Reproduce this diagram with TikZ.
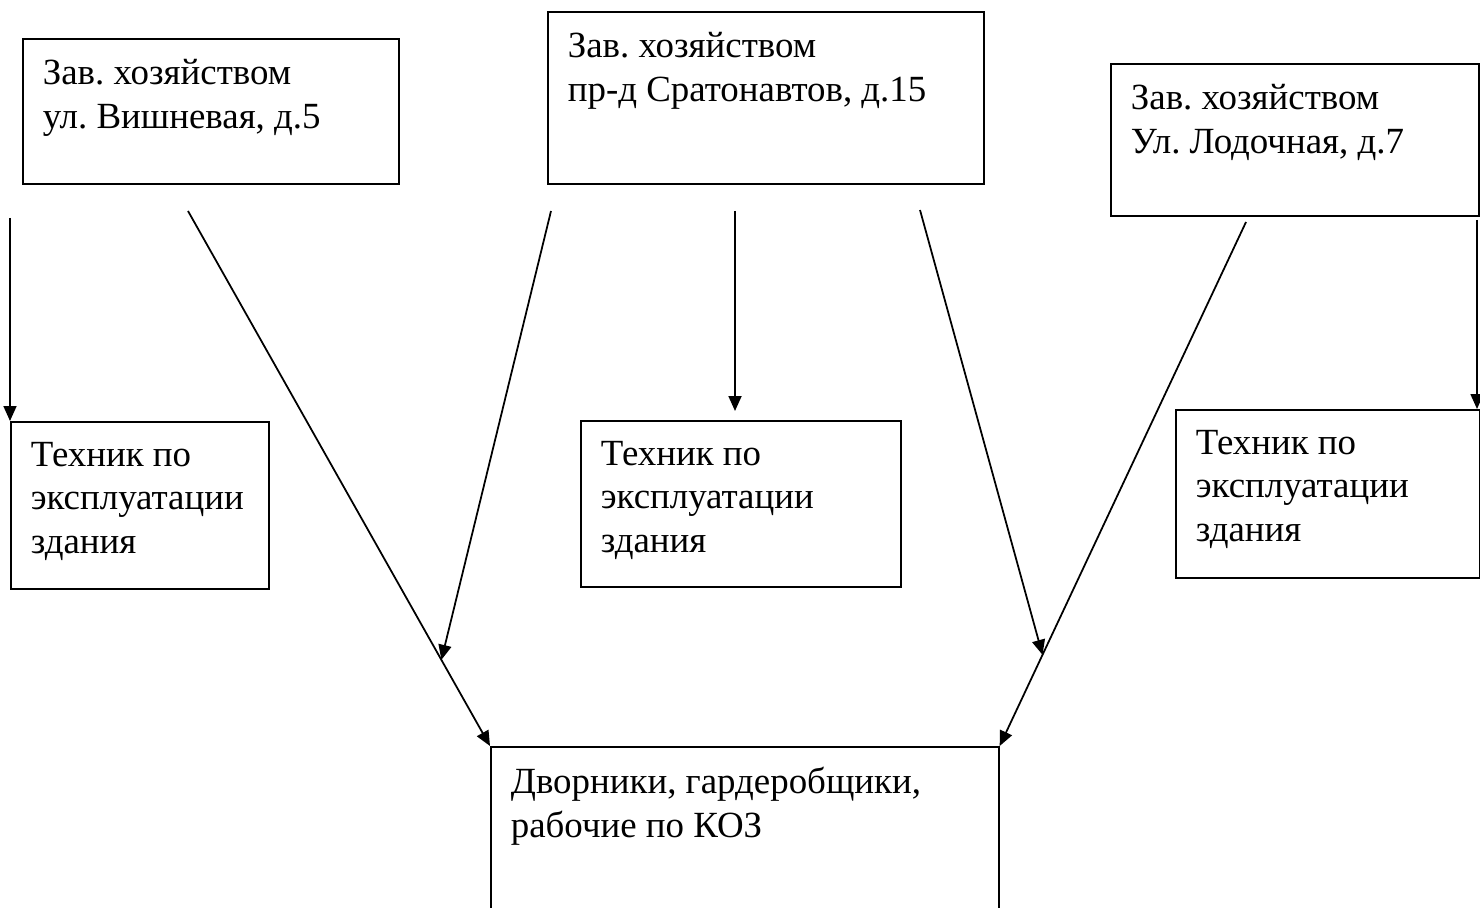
\documentclass[tikz,border=0pt]{standalone}
\usepackage{fontspec}
\setmainfont{Liberation Serif}
\usepackage{tikz}
\usetikzlibrary{arrows.meta,calc}
\newcommand{\boxtxt}[3]{\parbox[t][#2][t]{#1}{\raggedright\frenchspacing #3}}

\begin{document}
\begin{tikzpicture}[x=0.02cm,y=-0.02cm,>={Triangle[length=0.3cm,width=0.26cm]},
  unit/.style={draw,line width=1pt,inner sep=0.4cm,anchor=north west,
    font=\fontsize{21pt}{25pt}\selectfont},
  arr/.style={->,line width=1pt}]
  \clip (0,0) rectangle (1480,908);
  \useasboundingbox (0,0) rectangle (1480,908);
  % ---- heads of the three buildings
  \node[unit] (zavVish) at (22,38)
    {\boxtxt{6.72cm}{2.1cm}{Зав. хозяйством\\ул. Вишневая, д.5}};
  \node[unit] (zavStrat) at (547,11)
    {\boxtxt{7.92cm}{2.64cm}{Зав. хозяйством\\пр-д Сратонавтов, д.15}};
  \node[unit] (zavLod) at (1110,63)
    {\boxtxt{6.56cm}{2.24cm}{Зав. хозяйством\\Ул. Лодочная, д.7}};
  % ---- technicians
  \node[unit] (tehVish) at (10,421)
    {\boxtxt{4.36cm}{2.54cm}{Техник по\\эксплуатации\\здания}};
  \node[unit] (tehStrat) at (580,420)
    {\boxtxt{5.6cm}{2.52cm}{Техник по\\эксплуатации\\здания}};
  \node[unit] (tehLod) at (1175,409)
    {\boxtxt{5.28cm}{2.56cm}{Техник по\\эксплуатации\\здания}};
  % ---- staff (box runs off the bottom edge)
  \node[unit] (dvorniki) at (490,746)
    {\boxtxt{9.36cm}{3.2cm}{Дворники, гардеробщики,\\рабочие по КОЗ}};
  % ---- free starts of the arrows
  \coordinate (sLeft) at (10,218);
  \coordinate (sVish) at (188,211);
  \coordinate (sStratL) at (551,211);
  \coordinate (sMid) at (735,211);
  \coordinate (sStratR) at (920,210);
  \coordinate (sLod) at (1246,222);
  \coordinate (sRight) at (1477,220);
  % ---- arrows
  \draw[arr] (sLeft) -- (tehVish.north west);
  \draw[arr] (sVish) -- (dvorniki.north west);
  \draw[arr] (sStratL) -- ($(sVish)!0.839!(dvorniki.north west)$);
  \draw[arr] (sMid) -- ([yshift=0.18cm]sMid |- tehStrat.north);
  \draw[arr] (sStratR) -- ($(sLod)!0.826!(dvorniki.north east)$);
  \draw[arr] (sLod) -- (dvorniki.north east);
  \draw[arr] (sRight) -- (sRight |- tehLod.north);
\end{tikzpicture}
\end{document}
